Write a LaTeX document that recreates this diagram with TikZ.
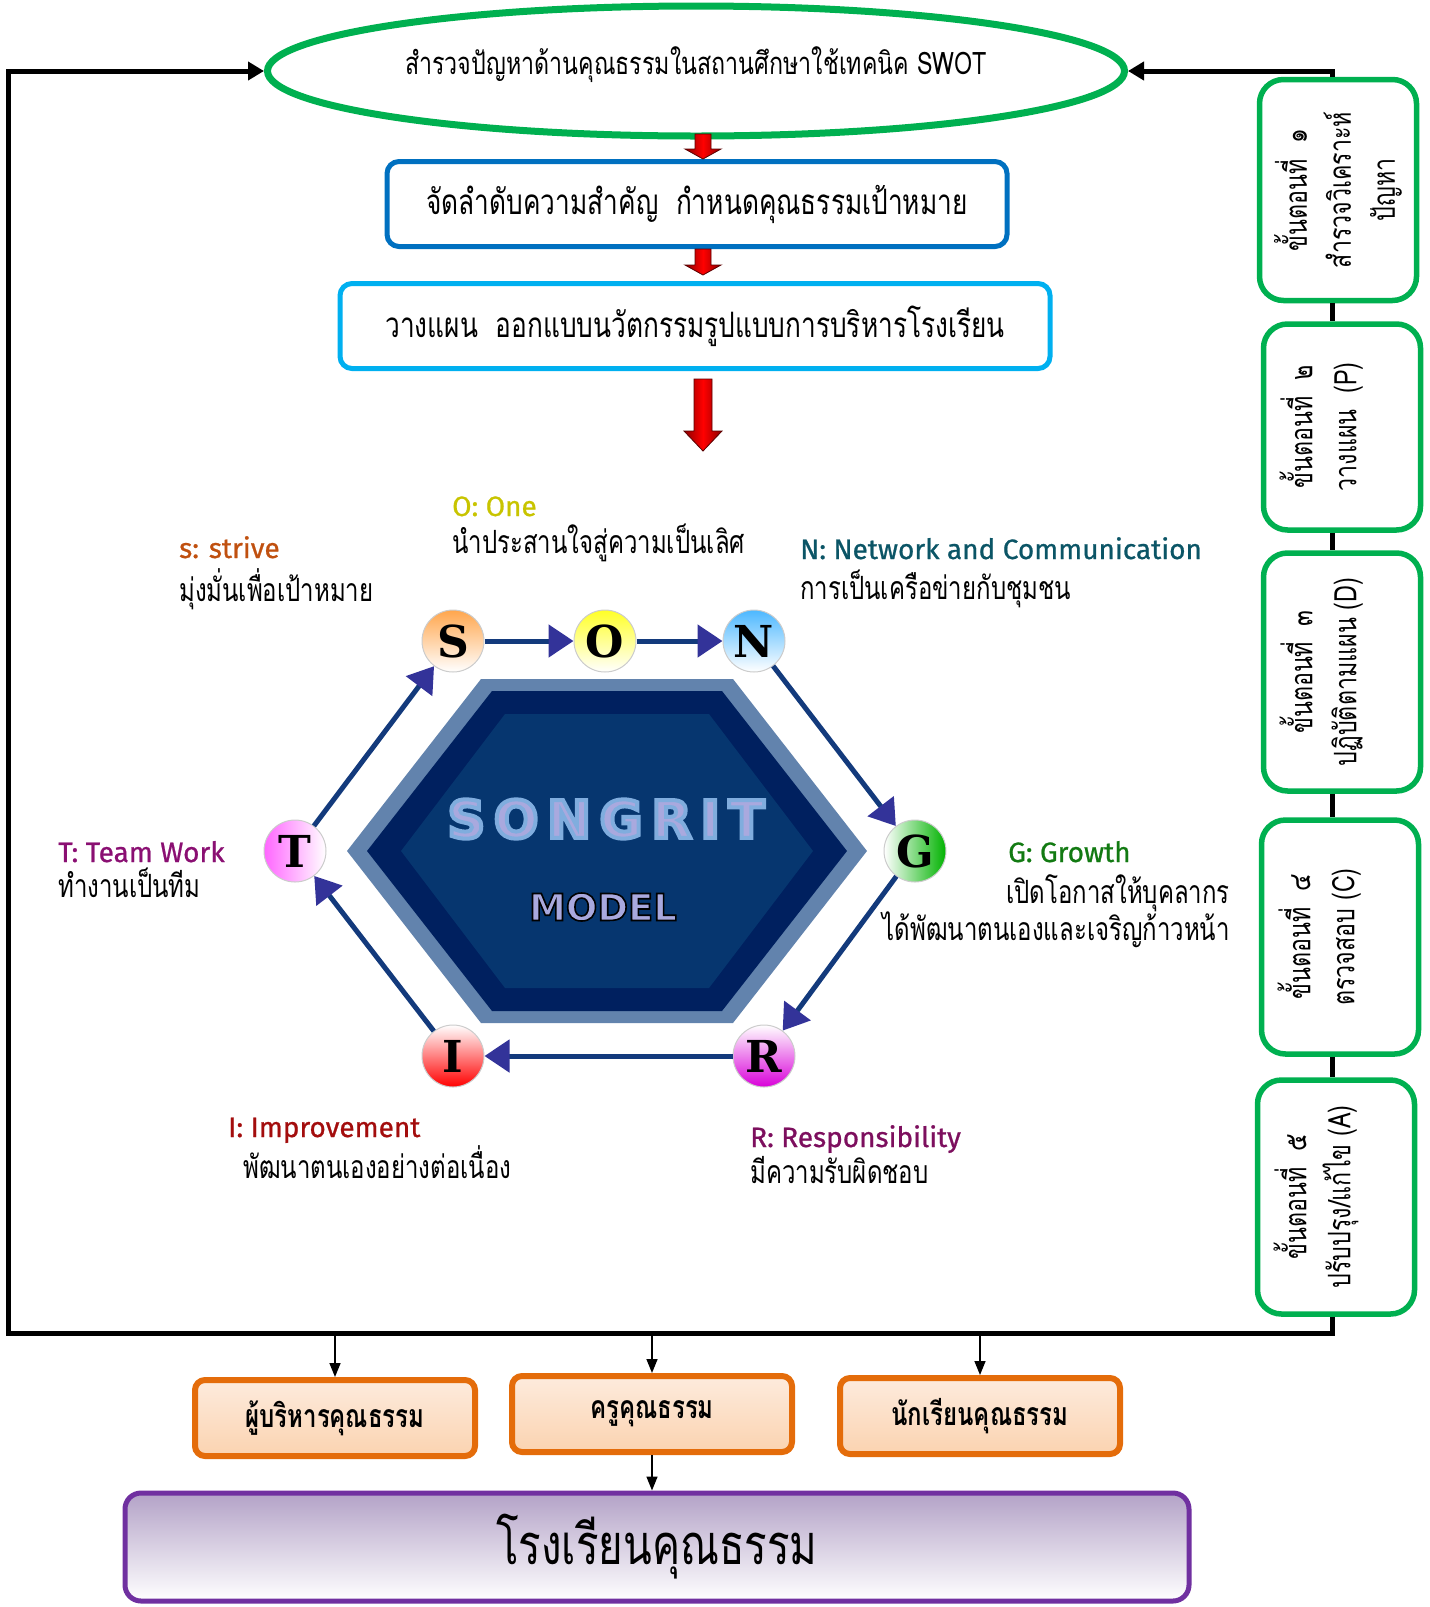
\documentclass[tikz,border=0pt]{standalone}
\usepackage{fontspec}
\usetikzlibrary{shapes.geometric,arrows.meta}

\newfontfamily\thai[Script=Thai,FakeStretch=0.75]{Loma}
\newfontfamily\engfont[FakeBold=0.8]{Fira Sans}
\newfontfamily\ballfont{DejaVu Serif}
\newfontfamily\logofont{DejaVu Sans}
% text with a coloured outline (stroke colour, stroke width, text)
\newcommand\outlined[3]{\special{pdf:literal direct 2 Tr #2 w #1 RG}#3\special{pdf:literal direct 0 Tr}}

\definecolor{okgreen}{HTML}{00B050}
\definecolor{boxblue}{HTML}{0070C0}
\definecolor{skyblue}{HTML}{00B0F0}
\definecolor{hexlight}{HTML}{6283AD}
\definecolor{hexdark}{HTML}{00205F}
\definecolor{hexmid}{HTML}{06366F}
\definecolor{cycline}{HTML}{133A7C}
\definecolor{cyctip}{HTML}{333399}
\definecolor{orangeline}{HTML}{E46C0A}
\definecolor{peachtop}{HTML}{FDEBDD}
\definecolor{peachbot}{HTML}{FBD3B0}
\definecolor{purpleline}{HTML}{7030A0}
\definecolor{lilac}{HTML}{B3A2C7}
\definecolor{striveC}{HTML}{C0500F}
\definecolor{oneC}{HTML}{C8C400}
\definecolor{netC}{HTML}{0B5566}
\definecolor{growC}{HTML}{127A12}
\definecolor{teamC}{HTML}{8A0F72}
\definecolor{impC}{HTML}{A30D0D}
\definecolor{respC}{HTML}{7D0F5E}
\definecolor{logofill}{HTML}{A9A9DE}

\begin{document}
\begin{tikzpicture}[x=1pt,y=-1pt,
    flowbox/.style={draw, rounded corners=12pt, line width=5pt, fill=white,
      minimum height=85pt, font=\thai\fontsize{35}{40}\selectfont},
    stepbox/.style={draw=okgreen, rounded corners=24pt, line width=5.5pt, fill=white,
      rotate=90, align=center, minimum height=157pt,
      font=\thai\fontsize{31}{44}\selectfont},
    twoline/.style={text depth=48pt},
    groupbox/.style={draw=orangeline, rounded corners=10pt, line width=6pt,
      top color=peachtop, bottom color=peachbot, minimum width=280pt,
      minimum height=76pt, font=\thai\bfseries\fontsize{32}{36}\selectfont},
    ball/.style={circle, draw=black!20, line width=1pt, minimum size=62pt,
      inner sep=0pt, font=\ballfont\bfseries\fontsize{44}{44}\selectfont},
    cyc/.style={draw=cycline, line width=5pt,
      -{Triangle[length=25pt,width=32pt,color=cyctip]}},
    frame/.style={line width=5pt},
    framearrow/.style={frame, -{Triangle[length=16pt,width=18pt]}},
    down/.style={line width=1.5pt, -{Triangle[length=14pt,width=11pt]}},
    head/.style={font=\engfont\fontsize{28}{30}\selectfont, anchor=base west, inner sep=0pt},
    note/.style={font=\thai\fontsize{32}{36}\selectfont, anchor=base west, inner sep=0pt},
    redarrow/.style={left color=red!55!black, right color=red!55!black,
      middle color=red, draw=red!35!black, line width=0.8pt}
  ]
\useasboundingbox (0,0) rectangle (1430,1607);

% top of the flow
\node[ellipse, draw=okgreen, line width=7pt, minimum width=857pt, minimum height=130pt,
  text depth=20pt, font=\thai\fontsize{31}{36}\selectfont] (survey) at (696,71)
  {สำรวจปัญหาด้านคุณธรรมในสถานศึกษาใช้เทคนิค SWOT};
\node[flowbox, draw=boxblue, minimum width=620pt] (prio) at (697,204)
  {จัดลำดับความสำคัญ\ \ กำหนดคุณธรรมเป้าหมาย};
\node[flowbox, draw=skyblue, minimum width=710pt] (plan) at (695,326)
  {วางแผน\ \ ออกแบบนวัตกรรมรูปแบบการบริหารโรงเรียน};

\shade[redarrow] (695,134) -- (711,134) -- (711,149) -- (721,149) -- (703,159) -- (685,149) -- (695,149) -- cycle;
\shade[redarrow] (695,249) -- (711,249) -- (711,265) -- (721,265) -- (703,275) -- (685,265) -- (695,265) -- cycle;
\shade[redarrow] (694,379) -- (712,379) -- (712,431) -- (722,431) -- (703,451) -- (684,431) -- (694,431) -- cycle;

% the hexagon
\fill[hexlight] (347,851) -- (481,679) -- (733,679) -- (867,851) -- (733,1023) -- (481,1023) -- cycle;
\fill[hexdark] (367,851) -- (492,691) -- (722,691) -- (847,851) -- (722,1011) -- (492,1011) -- cycle;
\fill[hexmid] (401,851) -- (505,714) -- (709,714) -- (813,851) -- (709,988) -- (505,988) -- cycle;
\node[font=\logofont\bfseries\fontsize{52}{52}\selectfont, text=logofill] (songrit) at (606,819)
  {\outlined{0.5 0.68 0.87}{4}{S\kern9pt O\kern9pt N\kern9pt G\kern9pt R\kern9pt I\kern9pt T}};
\node[font=\logofont\bfseries\fontsize{37}{37}\selectfont, text=logofill] (model) at (603,907)
  {\outlined{0 0 0}{1.6}{MODEL}};

% the letters
\node[ball, top color=orange!70, bottom color=white] (S) at (453,641) {S};
\node[ball, top color=yellow!85, bottom color=white] (O) at (605,641) {O};
\node[ball, top color=cyan!60!blue!70, bottom color=white] (N) at (754,641) {N};
\node[ball, left color=white, right color=green!70!black] (G) at (915,851) {G};
\node[ball, top color=white, bottom color=magenta!85!black] (R) at (764,1056) {R};
\node[ball, top color=white, bottom color=red] (I) at (453,1056) {I};
\node[ball, left color=magenta!60, right color=white] (T) at (295,851) {T};
\draw[cyc] (S) -- (O);
\draw[cyc] (O) -- (N);
\draw[cyc] (N) -- (G);
\draw[cyc] (G) -- (R);
\draw[cyc] (R) -- (I);
\draw[cyc] (I) -- (T);
\draw[cyc] (T) -- (S);

% labels
\node[head, text=striveC] (sHead) at (179,558) {s: strive};
\node[note] (sNote) at (179,601) {มุ่งมั่นเพื่อเป้าหมาย};
\node[head, text=oneC] (oHead) at (452,516) {O: One};
\node[note] (oNote) at (452,553) {นำประสานใจสู่ความเป็นเลิศ};
\node[head, text=netC] (nHead) at (800,559) {N: Network and Communication};
\node[note] (nNote) at (800,599) {การเป็นเครือข่ายกับชุมชน};
\node[head, text=growC] (gHead) at (1008,862) {G: Growth};
\node[note, anchor=base east] (gNote) at (1230,903) {เปิดโอกาสให้บุคลากร};
\node[note, anchor=base east] (gNote2) at (1230,940) {ได้พัฒนาตนเองและเจริญก้าวหน้า};
\node[head, text=teamC] (tHead) at (58,862) {T: Team Work};
\node[note] (tNote) at (58,897) {ทำงานเป็นทีม};
\node[head, text=impC] (iHead) at (228,1137) {I: Improvement};
\node[note] (iNote) at (243,1178) {พัฒนาตนเองอย่างต่อเนื่อง};
\node[head, text=respC] (rHead) at (750,1147) {R: Responsibility};
\node[note] (rNote) at (750,1183) {มีความรับผิดชอบ};

% steps on the right
\coordinate (spine) at (1332,0);
\node[stepbox, minimum width=221pt] (st1) at (1338,190) {ขั้นตอนที่\ \ ๑\\สำรวจวิเคราะห์\\ปัญหา};
\node[stepbox, twoline, minimum width=206pt] (st2) at (1342,427) {ขั้นตอนที่\ \ ๒\\วางแผน\ \ (P)};
\node[stepbox, twoline, minimum width=238pt] (st3) at (1342,672) {ขั้นตอนที่\ \ ๓\\ปฏิบัติตามแผน (D)};
\node[stepbox, twoline, minimum width=234pt] (st4) at (1340,937) {ขั้นตอนที่\ \ ๔\\ตรวจสอบ (C)};
\node[stepbox, twoline, minimum width=234pt] (st5) at (1336,1197) {ขั้นตอนที่\ \ ๕\\ปรับปรุง/แก้ไข (A)};
\draw[frame] (st1.west -| spine) -- (st2.east -| spine);
\draw[frame] (st2.west -| spine) -- (st3.east -| spine);
\draw[frame] (st3.west -| spine) -- (st4.east -| spine);
\draw[frame] (st4.west -| spine) -- (st5.east -| spine);
\draw[framearrow] (st1.east -| spine) |- (survey.east);

% loop back and the outcome
\coordinate (cornerBL) at (8,1333);
\draw[framearrow] (st5.west -| spine) |- (cornerBL) |- (survey.west);

\node[groupbox] (mgr) at (335,1418) {ผู้บริหารคุณธรรม};
\node[groupbox] (teach) at (652,1414) {ครูคุณธรรม};
\node[groupbox] (pupil) at (980,1416) {นักเรียนคุณธรรม};
\draw[down] (mgr.north |- cornerBL) -- (mgr.north);
\draw[down] (teach.north |- cornerBL) -- (teach.north);
\draw[down] (pupil.north |- cornerBL) -- (pupil.north);

\node[draw=purpleline, line width=5pt, rounded corners=16pt, top color=lilac, bottom color=white,
  minimum width=1064pt, minimum height=108pt, font=\thai\fontsize{56}{60}\selectfont] (school) at (657,1547)
  {โรงเรียนคุณธรรม};
\draw[down] (teach.south) -- (teach.south |- school.north);
\end{tikzpicture}
\end{document}
